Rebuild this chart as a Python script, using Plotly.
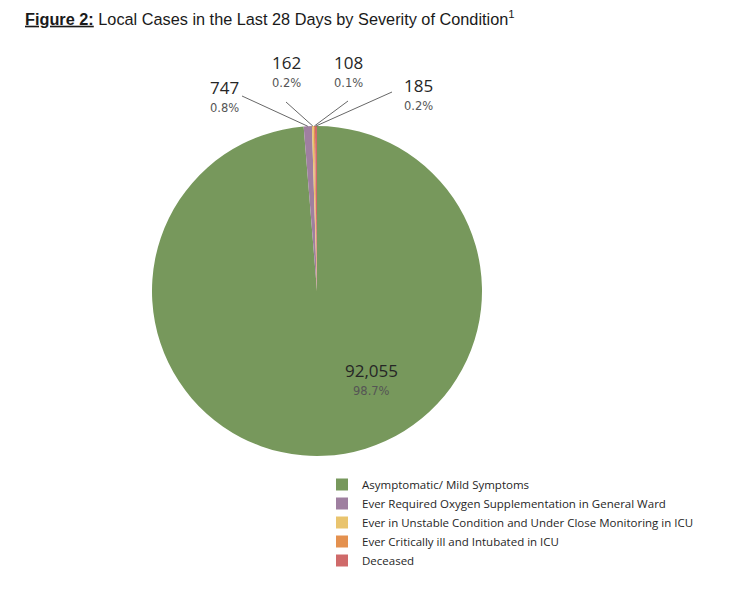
import math
import plotly.graph_objects as go

# Local cases in the last 28 days by severity of condition
categories = [
    "Asymptomatic/ Mild Symptoms",
    "Ever Required Oxygen Supplementation in General Ward",
    "Ever in Unstable Condition and Under Close Monitoring in ICU",
    "Ever Critically ill and Intubated in ICU",
    "Deceased",
]
cases = [92055, 747, 162, 108, 185]
colors = ["#77985c", "#9f7fa0", "#e9c46e", "#e4914f", "#cf6a6a"]

W, H = 747, 598
OFF = 8  # page body margin, positions below are measured on the page


def paper(x, y):
    return (x - OFF) / W, 1 - (y - OFF) / H


cx, cy, r = 317, 291, 165  # pie centre / radius on the page

x0, y1 = paper(cx - r, cy - r)
x1, y0 = paper(cx + r, cy + r)

fig = go.Figure(go.Pie(
    labels=categories,
    values=cases,
    marker=dict(colors=colors, line=dict(width=0)),
    sort=False,
    direction="clockwise",
    rotation=0,
    textinfo="none",
    hoverinfo="label+value+percent",
    domain=dict(x=[x0, x1], y=[y0, y1]),
))

total = sum(cases)

# label centre x and the y between value and percent, plus leader line start
label_pos = [(371, 383), (209, 100), (286, 75), (348, 75), (418, 98)]
line_start = [None, (242, 96), (286, 102), (348, 101), (392, 92)]

cum = 0
for i, v in enumerate(cases):
    mid = (cum + v / 2) / total
    cum += v
    lx, ly = label_pos[i]
    px_, py_ = paper(lx, ly)
    fig.add_annotation(x=px_, y=py_, xref="paper", yref="paper", yanchor="bottom",
                       text=f"{v:,}", showarrow=False, borderpad=0,
                       font=dict(family="Open Sans", size=17, color="#262626"))
    fig.add_annotation(x=px_, y=py_, xref="paper", yref="paper", yanchor="top",
                       text=f"{v / total * 100:.1f}%", showarrow=False, borderpad=0,
                       font=dict(family="DejaVu Sans", size=11.5, color="#555555"))
    if line_start[i] is not None:
        ang = 2 * math.pi * mid
        tx = cx + r * math.sin(ang)
        ty = cy - r * math.cos(ang)
        sx, sy = paper(*line_start[i])
        ex, ey = paper(tx, ty)
        fig.add_shape(type="line", xref="paper", yref="paper",
                      x0=sx, y0=sy, x1=ex, y1=ey,
                      line=dict(color="#404040", width=0.8))

tx_, ty_ = paper(25, 19)
lgx, lgy = paper(322, 470)

fig.update_layout(
    width=W, height=H,
    margin=dict(l=0, r=0, t=0, b=0),
    paper_bgcolor="white",
    title=dict(
        text="<b><u>Figure 2:</u></b> Local Cases in the Last 28 Days by Severity of Condition<sup>1</sup>",
        x=tx_, xanchor="left", y=ty_, yanchor="middle",
        font=dict(family="Liberation Sans", size=16.3, color="#1a1a1a"),
    ),
    legend=dict(
        x=lgx, xanchor="left", y=lgy, yanchor="top",
        font=dict(family="Open Sans", size=11.5, color="#262626"),
        traceorder="normal", itemwidth=30, tracegroupgap=0,
        bgcolor="rgba(0,0,0,0)",
    ),
    showlegend=True,
)

fig.write_html("out.html")
